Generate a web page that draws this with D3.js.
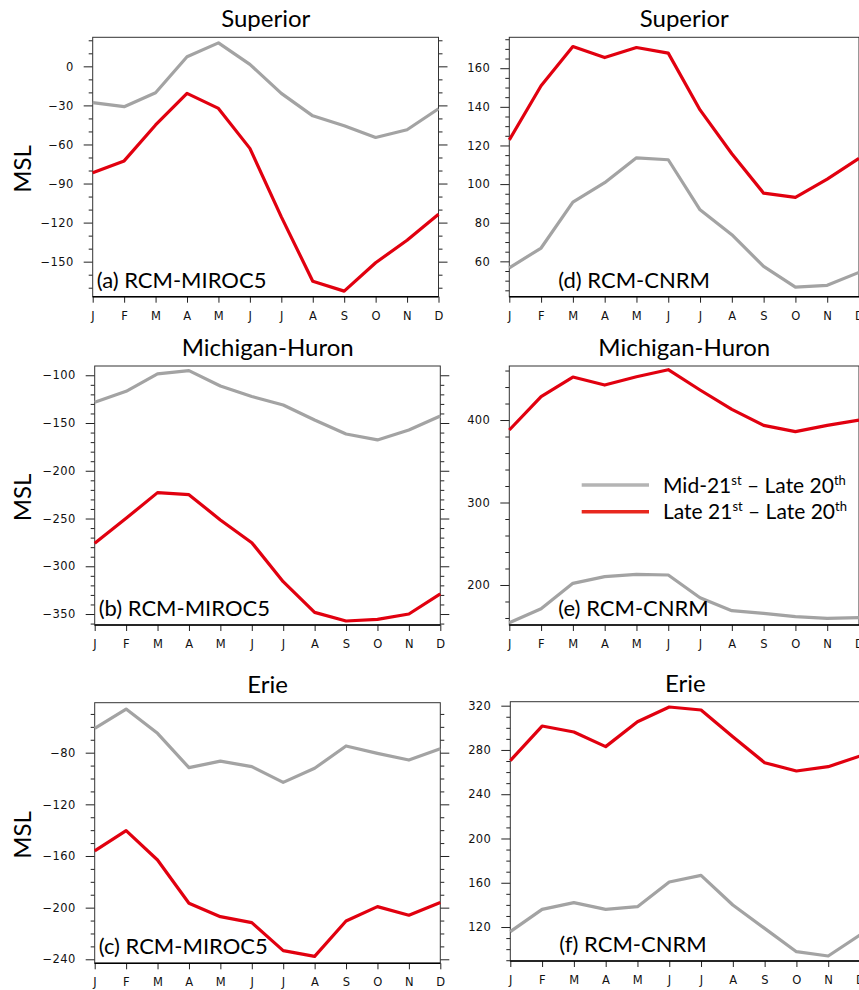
<!DOCTYPE html>
<html>
<head>
<meta charset="utf-8">
<script src="https://cdn.jsdelivr.net/npm/d3@7"></script>
<style>
  body { margin: 0; background: #fff; }
  svg { display: block; }
</style>
</head>
<body>
<div id="chart"></div>
<script>
// months on the x axis
const months = ["J", "F", "M", "A", "M", "J", "J", "A", "S", "O", "N", "D"];

// panel titles and labels
const lakes = ["Superior", "Michigan-Huron", "Erie"];
const panelLabels = ["(a) RCM-MIROC5", "(b) RCM-MIROC5", "(c) RCM-MIROC5",
  "(d) RCM-CNRM", "(e) RCM-CNRM", "(f) RCM-CNRM"];
const seriesNames = ["Mid-21st – Late 20th", "Late 21st – Late 20th"];

// Mid-21st minus Late 20th (gray)
const midMiroc = [
  [-27.9, -31, -20.3, 7.4, 18, 1.5, -20.8, -38, -45.6, -54.6, -48.7, -32.6],
  [-128.3, -116.8, -98.6, -95.1, -111.2, -122.3, -131.1, -146.8, -161.5, -167.7, -157.3, -142.6],
  [-61.2, -46.2, -65, -91.6, -86.5, -90.8, -103, -92.1, -74.8, -80.5, -85.7, -76.9]
];
// Late 21st minus Late 20th (red)
const lateMiroc = [
  [-81.8, -72.6, -45, -20.8, -32.3, -63, -115.6, -165, -172.6, -150.8, -133.6, -113.6],
  [-276, -249.8, -222.9, -225, -251.5, -275.3, -316.1, -348.3, -357.3, -355.6, -350, -329],
  [-156.1, -140.4, -163.1, -196.6, -207, -211.6, -233.3, -237.7, -210.3, -199.2, -205.9, -196.1]
];
const midCnrm = [
  [56.6, 66.9, 90.7, 100.7, 113.6, 112.6, 86.7, 73.8, 57.4, 46.7, 47.6, 54.3],
  [154.3, 171.3, 202, 210.1, 212.9, 212.1, 184.6, 168.9, 165.7, 161.6, 159.6, 160.4],
  [115.8, 136, 142, 136, 138.4, 160.7, 166.7, 139.9, 118.8, 97.7, 93.8, 112.8]
];
const lateCnrm = [
  [122.9, 150.9, 171.2, 165.5, 170.7, 167.8, 138.4, 115.7, 95.3, 93.1, 102.6, 113.3],
  [387.9, 428.3, 452.1, 442.4, 452.5, 461, 436.4, 412.9, 393.5, 385.9, 393.5, 400],
  [270.3, 301.6, 296.2, 283, 305.5, 318.8, 316.1, 292, 268.5, 261, 264.9, 274.5]
];

// y ranges and tick steps, order a,b,c,d,e,f
const yDomains = [[-176.9, 22.3], [-361.5, -90.3], [-243.1, -41.3],
  [41.7, 176], [151.5, 465.5], [89.3, 323.6]];
const majorStep = [30, 50, 40, 20, 100, 40];
const minorStep = [10, 10, 10, 5, 20, 10];

const width = 859, height = 990;
const grayCol = "#a3a3a3", redCol = "#e1000f";

// panel frames (left, top, right, bottom)
const boxes = [
  [92.7, 37.3, 438.5, 296.7],
  [94.7, 366, 440.3, 625],
  [94.7, 702.7, 440.3, 963.3],
  [509.3, 37.3, 859, 296.7],
  [509.3, 366, 859, 625],
  [510.3, 701.7, 860, 961]
];

const svg = d3.select("#chart").append("svg")
  .attr("width", width).attr("height", height);

function panel(i) {
  const b = boxes[i];
  const row = i % 3;
  const mid = i < 3 ? midMiroc[row] : midCnrm[row];
  const late = i < 3 ? lateMiroc[row] : lateCnrm[row];

  const x = d3.scalePoint().domain(d3.range(12)).range([b[0], b[2]]);
  const y = d3.scaleLinear().domain(yDomains[i]).range([b[3], b[1]]);

  const g = svg.append("g");

  // ticks
  const lo = yDomains[i][0], hi = yDomains[i][1];
  const majors = d3.range(Math.ceil(lo / majorStep[i]) * majorStep[i], hi, majorStep[i]);
  const minors = d3.range(Math.ceil(lo / minorStep[i]) * minorStep[i], hi, minorStep[i])
    .filter(v => majors.indexOf(v) < 0);

  const left = d3.axisLeft(y).tickValues(majors).tickSize(9).tickPadding(10)
    .tickFormat(d3.format("d"));
  g.append("g").attr("transform", `translate(${b[0]},0)`).call(left);
  g.append("g").attr("transform", `translate(${b[0]},0)`)
    .call(d3.axisLeft(y).tickValues(minors).tickSize(4).tickFormat(""));
  g.append("g").attr("transform", `translate(${b[2]},0)`)
    .call(d3.axisRight(y).tickValues(majors).tickSize(9).tickFormat(""));
  g.append("g").attr("transform", `translate(${b[2]},0)`)
    .call(d3.axisRight(y).tickValues(minors).tickSize(4).tickFormat(""));
  g.append("g").attr("transform", `translate(0,${b[3]})`)
    .call(d3.axisBottom(x).tickSize(6).tickPadding(9).tickFormat(d => months[d]));

  g.selectAll(".domain").remove();
  g.selectAll(".tick line").attr("stroke", "#222").attr("stroke-width", 1);
  g.selectAll(".tick text")
    .style("font-family", "'DejaVu Sans', sans-serif")
    .style("font-size", "11.5px")
    .style("letter-spacing", "0.4px")
    .attr("fill", "#111");

  // frame
  g.append("rect")
    .attr("x", b[0]).attr("y", b[1])
    .attr("width", b[2] - b[0]).attr("height", b[3] - b[1])
    .attr("fill", "none").attr("stroke", "#333").attr("stroke-width", 1);
  g.append("line")
    .attr("x1", b[0]).attr("x2", b[2]).attr("y1", b[3]).attr("y2", b[3])
    .attr("stroke", "#000").attr("stroke-width", 1.5);

  const line = d3.line().x((d, k) => x(k)).y(d => y(d));
  g.append("path").datum(mid)
    .attr("d", line).attr("fill", "none")
    .attr("stroke", grayCol).attr("stroke-width", 3.2).attr("stroke-linejoin", "round");
  g.append("path").datum(late)
    .attr("d", line).attr("fill", "none")
    .attr("stroke", redCol).attr("stroke-width", 3.2).attr("stroke-linejoin", "round");

  // title
  g.append("text")
    .attr("x", (b[0] + b[0] + 350) / 2 - (i < 3 ? 2 : 0)).attr("y", b[1] - 10)
    .attr("text-anchor", "middle")
    .style("font-family", "Lato, sans-serif").style("font-size", "24px")
    .attr("fill", "#000")
    .text(lakes[row]);

  // panel label
  g.append("text")
    .attr("x", i < 3 ? b[0] + 4 : b[0] + 49).attr("y", b[3] - 9)
    .style("font-family", "Lato, sans-serif").style("font-size", "22px")
    .attr("fill", "#000")
    .text(panelLabels[i]);

  if (i < 3) {
    g.append("text")
      .attr("transform", `translate(31,${(b[1] + b[3]) / 2 + 2}) rotate(-90)`)
      .attr("text-anchor", "middle")
      .style("font-family", "Lato, sans-serif").style("font-size", "24px")
      .attr("fill", "#000")
      .text("MSL");
  }
}

d3.range(6).forEach(panel);

// legend inside panel (e)
const legend = svg.append("g");
const legCols = ["#b4b4b4", "#e8281e"];
const legY = [485, 511.7];
seriesNames.forEach((name, k) => {
  legend.append("line")
    .attr("x1", 581.7).attr("x2", 649)
    .attr("y1", legY[k]).attr("y2", legY[k])
    .attr("stroke", legCols[k]).attr("stroke-width", 3.5);
  const parts = name.match(/^(.*\d)(st)( – Late 20)(th)$/);
  const t = legend.append("text")
    .attr("x", 663).attr("y", legY[k] + 7.5)
    .style("font-family", "Lato, sans-serif").style("font-size", "21px")
    .attr("fill", "#000");
  t.append("tspan").text(parts[1]);
  t.append("tspan").attr("dy", -8).style("font-size", "13px").text(parts[2]);
  t.append("tspan").attr("dy", 8).text(parts[3]);
  t.append("tspan").attr("dy", -8).style("font-size", "13px").text(parts[4]);
});
</script>
</body>
</html>
